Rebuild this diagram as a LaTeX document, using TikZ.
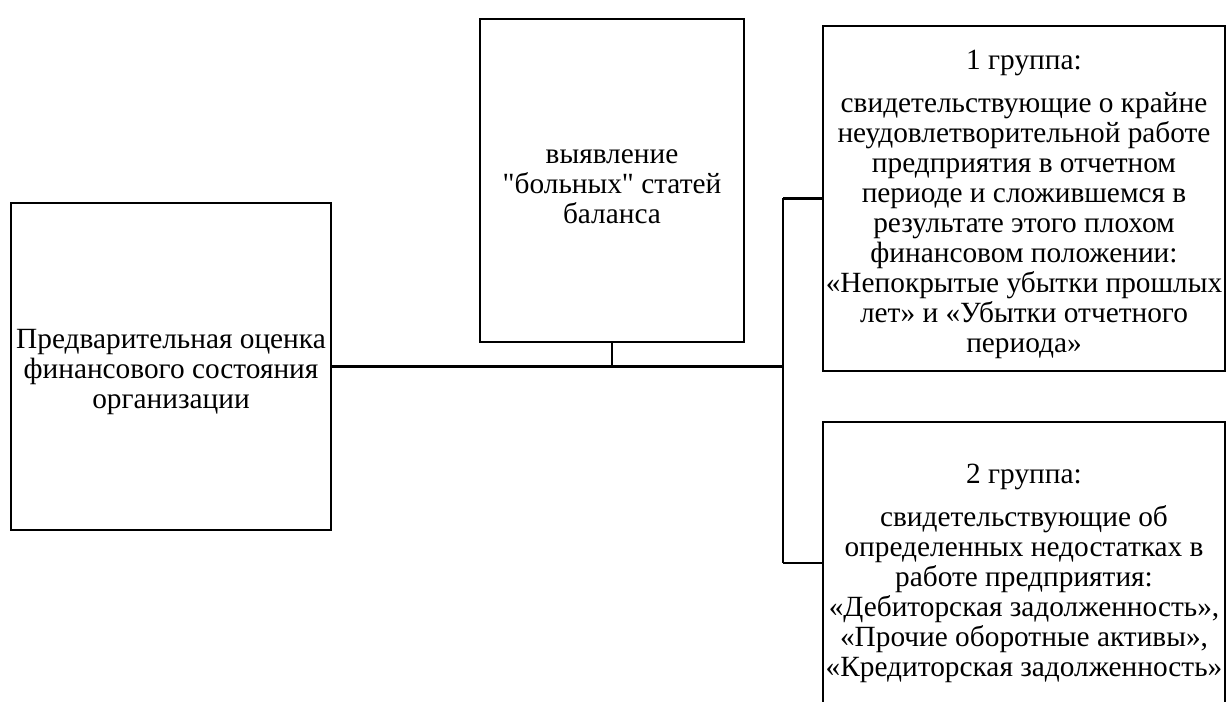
\documentclass[tikz,border=0pt]{standalone}
\usepackage{fontspec}
\setmainfont{Liberation Serif}
\begin{document}
\begin{tikzpicture}[x=0.75pt,y=-0.75pt,
  box/.style={draw,line width=1.9pt,inner sep=0pt},
  txt/.style={inner sep=0pt,align=center,
    font=\fontsize{22pt}{22.5pt}\selectfont},
  conn/.style={line width=1.9pt}]
\useasboundingbox (0,0) rectangle (1227,702);
\node[box,minimum width=240pt,minimum height=245.25pt] (L) at (171,366.5) {};
\node[box,minimum width=198pt,minimum height=242.25pt] (M) at (612,180.5) {};
\node[box,minimum width=301.5pt,minimum height=258.75pt] (TR) at (1024,198.5) {};
\node[box,minimum width=301.5pt,minimum height=217.5pt] (BR) at (1024,567) {};
\node[txt] (Lt) at ([yshift=-4.5pt]L.center)
  {Предварительная оценка\\финансового состояния\\организации};
\node[txt] (Mt) at ([yshift=-4.5pt]M.center)
  {выявление\\\textquotedbl больных\textquotedbl{} статей\\баланса};
\node[txt] (TRt) at ([yshift=-4.5pt]TR.center)
  {1 группа:\\[9.75pt]свидетельствующие о крайне\\неудовлетворительной работе\\предприятия в отчетном\\периоде и сложившемся в\\результате этого плохом\\финансовом положении:\\«Непокрытые убытки прошлых\\лет» и «Убытки отчетного\\периода»};
\node[txt] (BRt) at ([yshift=-4.5pt]BR.center)
  {2 группа:\\[9.75pt]свидетельствующие об\\определенных недостатках в\\работе предприятия:\\«Дебиторская задолженность»,\\«Прочие оборотные активы»,\\«Кредиторская задолженность»};
\coordinate (jT) at (783,198.5);
\coordinate (jM) at (783,366.5);
\coordinate (jB) at (783,563);
\draw[conn] (L.east) -- (jM);
\draw[conn] (M.south) -- (M.south |- jM);
\draw[conn] (jT) -- (jB);
\draw[conn] (jT) -- (TR.west);
\draw[conn] (jB) -- (jB -| BR.west);
\end{tikzpicture}
\end{document}
